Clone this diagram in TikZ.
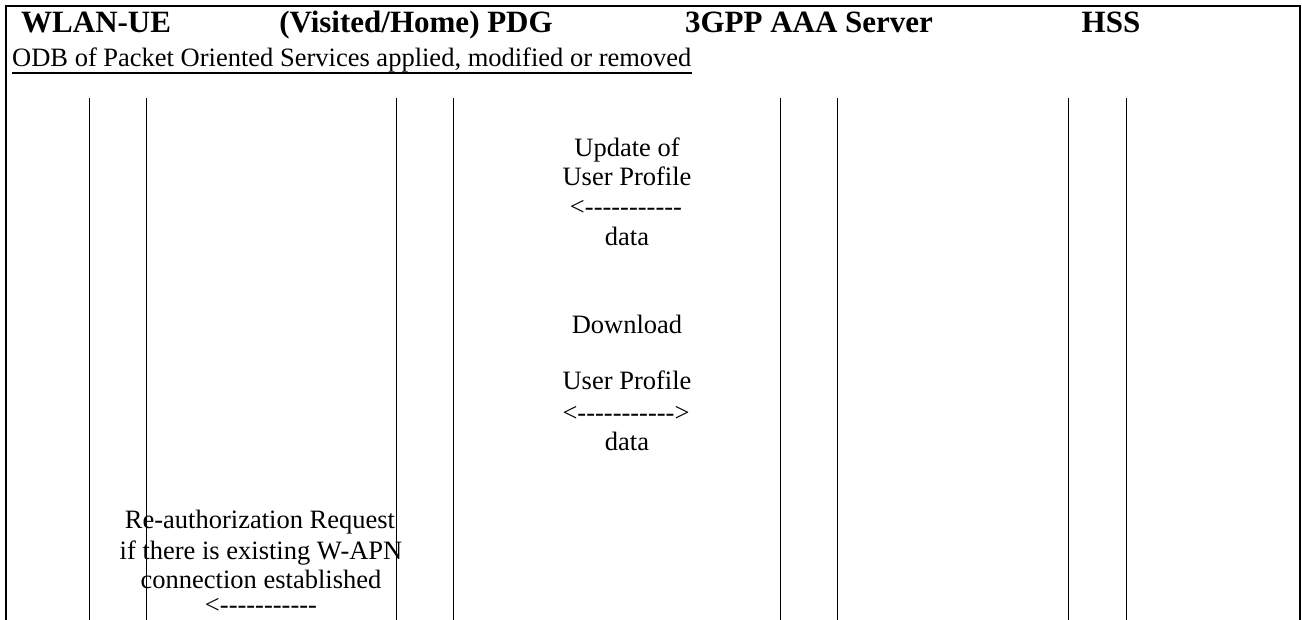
\documentclass[tikz,border=0pt]{standalone}
\usepackage{fontspec}
\setmainfont{Liberation Serif}
\newcommand\hyp{\mbox{-}}
\newcommand\dashrun{\hyp\hyp\hyp\hyp\hyp\hyp\hyp\hyp\hyp\hyp\hyp}
\begin{document}
\begin{tikzpicture}[x=1pt,y=-1pt,
  hdr/.style={anchor=base,inner sep=0pt,font=\fontsize{31}{34}\selectfont\bfseries},
  txt/.style={anchor=base,inner sep=0pt,font=\fontsize{26.5}{30}\selectfont},
  frame/.style={line width=2pt},
  life/.style={line width=0.9pt}]
\useasboundingbox (0,0) rectangle (1302,620);
% frame
\draw[frame] (6,620) -- (6,6) -- (1300,6) -- (1300,620);
% header
\node[hdr,anchor=base west] (ue) at (21,33) {WLAN-UE};
\node[hdr] (pdg) at (416,33) {(Visited/Home) PDG};
\node[hdr] (aaa) at (809,33) {3GPP AAA Server};
\node[hdr] (hss) at (1111,33) {HSS};
% title
\node[txt,anchor=base west] (odb) at (12,67) {ODB of Packet Oriented Services applied, modified or removed};
\draw[line width=1.3pt] ([yshift=-6pt]odb.base west) -- ([yshift=-6pt]odb.base east);
% lifelines
\foreach \x in {89,146,396,453,780,837,1068,1126}
  \draw[life] (\x,98) -- (\x,620);
% update of user profile
\node[txt] (u1) at (627,157) {Update of};
\node[txt] (u2) at (627,186) {User Profile};
\node[txt] (u3) at (626,216) {<\dashrun};
\node[txt] (u4) at (627,246) {data};
% download user profile
\node[txt] (d1) at (627,334) {Download};
\node[txt] (d2) at (627,389) {User Profile};
\node[txt] (d3) at (626,421) {<\dashrun>};
\node[txt] (d4) at (627,450) {data};
% re-authorization
\node[txt] (r1) at (260,528) {Re-authorization Request};
\node[txt] (r2) at (261,559) {if there is existing W-APN};
\node[txt] (r3) at (261,588) {connection established};
\node[txt] (r4) at (261,613) {<\dashrun};
\end{tikzpicture}
\end{document}
